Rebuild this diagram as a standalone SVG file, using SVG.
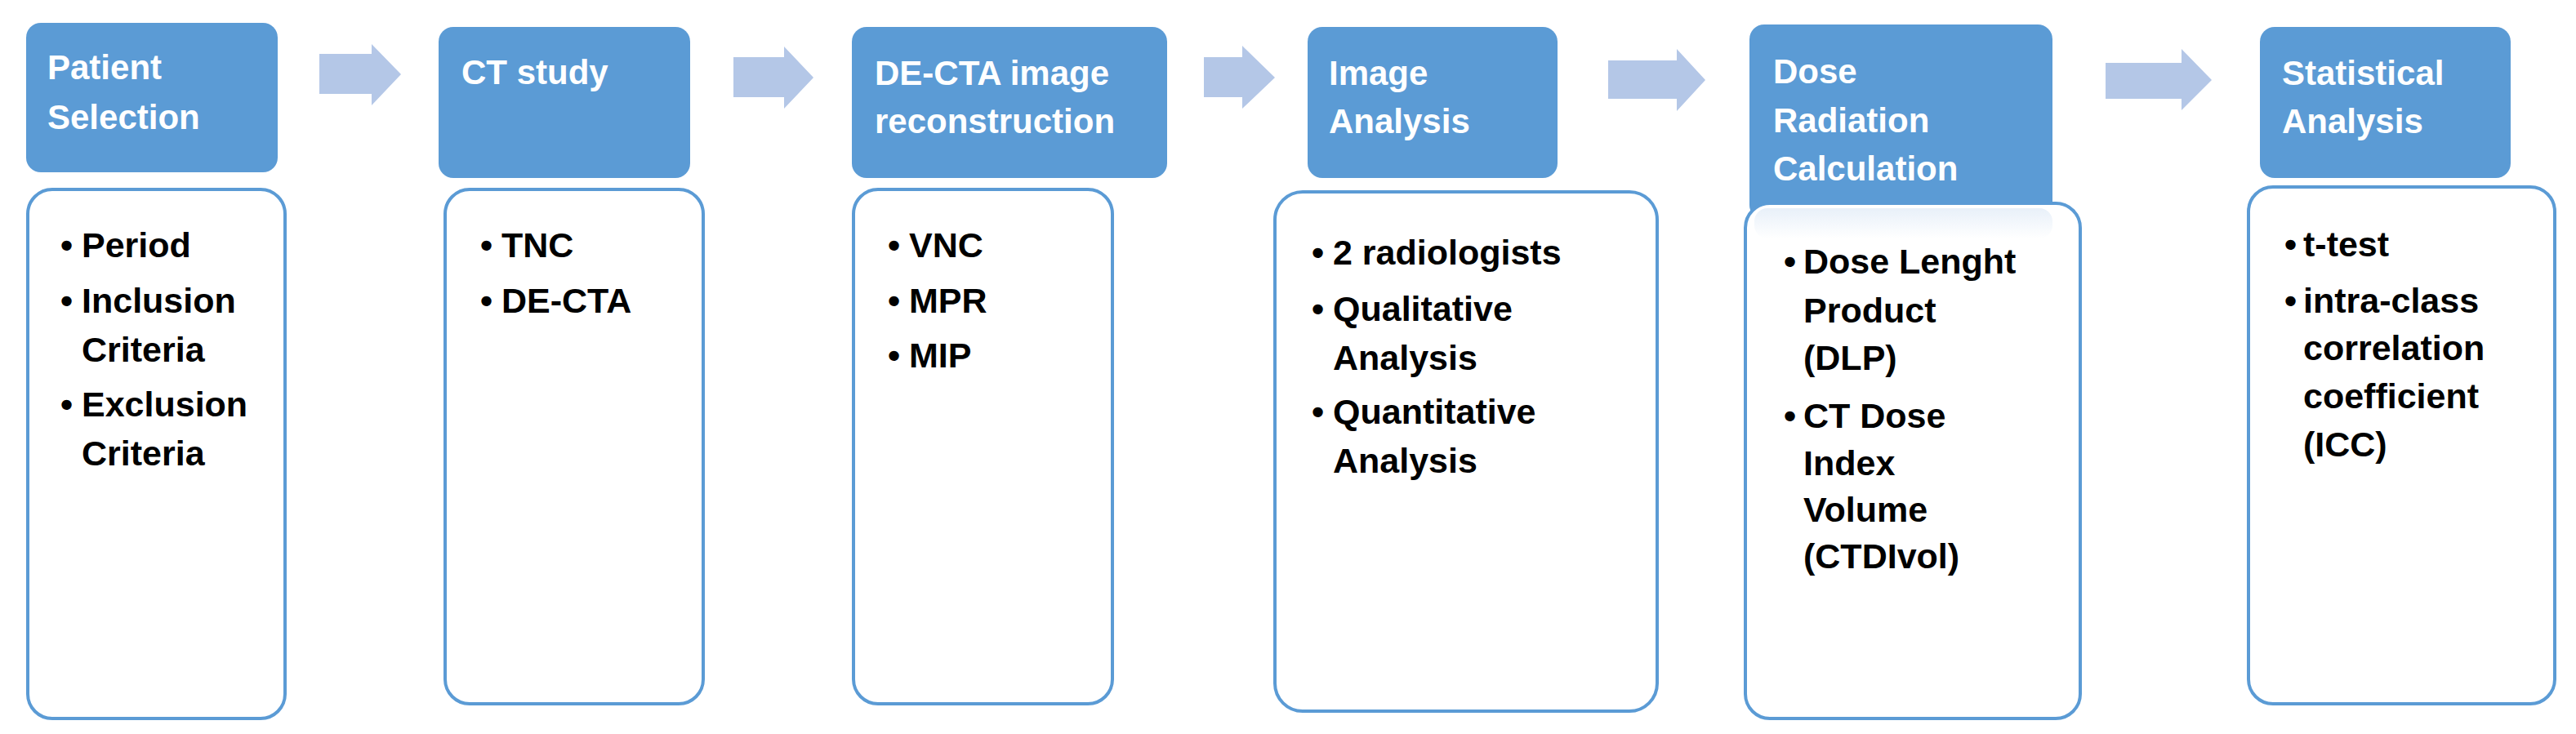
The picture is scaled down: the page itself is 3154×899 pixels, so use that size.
<svg xmlns="http://www.w3.org/2000/svg" width="3154" height="899" viewBox="0 0 3154 899">
<style>
.h{fill:#5B9BD5}
.b{fill:#fff;stroke:#5B9BD5;stroke-width:4}
.ht{font-family:"Liberation Sans",Arial,sans-serif;font-weight:bold;font-size:42px;fill:#fff}
.t{font-family:"Liberation Sans",Arial,sans-serif;font-weight:bold;font-size:43px;fill:#000}
.a{fill:#B4C7E7}
</style>
<rect width="3154" height="899" fill="#fff"/>
<g id="connectors">
<path class="a" d="M391,66H455V54L491,91L455,129V115H391Z"/>
<path class="a" d="M898,70H960V57L996,95L960,133V119H898Z"/>
<path class="a" d="M1474,70H1521V56L1561,95L1521,133V119H1474Z"/>
<path class="a" d="M1969,74H2053V60L2088,98L2053,136V121H1969Z"/>
<path class="a" d="M2578,77H2671V60L2708,98L2671,135V121H2578Z"/>
</g>
<g id="n1">
<rect class="h" x="32" y="28" width="308" height="183" rx="18"/>
<text class="ht" x="58" y="97">Patient</text><text class="ht" x="58" y="158">Selection</text>
<rect class="b" x="34" y="232" width="315" height="648" rx="30"/>
<text class="t" x="74" y="315">•</text><text class="t" x="100" y="315">Period</text>
<text class="t" x="74" y="383">•</text><text class="t" x="100" y="383">Inclusion</text><text class="t" x="100" y="443">Criteria</text>
<text class="t" x="74" y="510">•</text><text class="t" x="100" y="510">Exclusion</text><text class="t" x="100" y="570">Criteria</text>
</g>
<g id="n2">
<rect class="h" x="537" y="33" width="308" height="185" rx="18"/>
<text class="ht" x="565" y="103">CT study</text>
<rect class="b" x="545" y="232" width="316" height="630" rx="30"/>
<text class="t" x="588" y="315">•</text><text class="t" x="614" y="315">TNC</text>
<text class="t" x="588" y="383">•</text><text class="t" x="614" y="383">DE-CTA</text>
</g>
<g id="n3">
<rect class="h" x="1043" y="33" width="386" height="185" rx="18"/>
<text class="ht" x="1071" y="104">DE-CTA image</text><text class="ht" x="1071" y="163">reconstruction</text>
<rect class="b" x="1045" y="232" width="317" height="630" rx="30"/>
<text class="t" x="1087" y="315">•</text><text class="t" x="1113" y="315">VNC</text>
<text class="t" x="1087" y="383">•</text><text class="t" x="1113" y="383">MPR</text>
<text class="t" x="1087" y="450">•</text><text class="t" x="1113" y="450">MIP</text>
</g>
<g id="n4">
<rect class="h" x="1601" y="33" width="306" height="185" rx="18"/>
<text class="ht" x="1627" y="104">Image</text><text class="ht" x="1627" y="163">Analysis</text>
<rect class="b" x="1561" y="235" width="468" height="636" rx="34"/>
<text class="t" x="1606" y="324">•</text><text class="t" x="1632" y="324">2 radiologists</text>
<text class="t" x="1606" y="393">•</text><text class="t" x="1632" y="393">Qualitative</text><text class="t" x="1632" y="453">Analysis</text>
<text class="t" x="1606" y="519">•</text><text class="t" x="1632" y="519">Quantitative</text><text class="t" x="1632" y="579">Analysis</text>
</g>
<g id="n5">
<defs><linearGradient id="fade" x1="0" y1="0" x2="0" y2="1"><stop offset="0" stop-color="#E8F0F9"/><stop offset="1" stop-color="#fff"/></linearGradient></defs>
<rect class="h" x="2142" y="30" width="371" height="239" rx="18"/>
<text class="ht" x="2171" y="102">Dose</text><text class="ht" x="2171" y="162">Radiation</text><text class="ht" x="2171" y="221">Calculation</text>
<rect class="b" x="2137" y="249" width="410" height="631" rx="30"/>
<rect x="2148" y="255" width="365" height="37" rx="16" fill="url(#fade)"/>
<text class="t" x="2184" y="335">•</text><text class="t" x="2208" y="335">Dose Lenght</text>
<text class="t" x="2208" y="395">Product</text><text class="t" x="2208" y="453">(DLP)</text>
<text class="t" x="2184" y="524">•</text><text class="t" x="2208" y="524">CT Dose</text>
<text class="t" x="2208" y="582">Index</text><text class="t" x="2208" y="639">Volume</text><text class="t" x="2208" y="696">(CTDIvol)</text>
</g>
<g id="n6">
<rect class="h" x="2767" y="33" width="307" height="185" rx="18"/>
<text class="ht" x="2794" y="104">Statistical</text><text class="ht" x="2794" y="163">Analysis</text>
<rect class="b" x="2753" y="229" width="375" height="633" rx="30"/>
<text class="t" x="2797" y="314">•</text><text class="t" x="2820" y="314">t-test</text>
<text class="t" x="2797" y="383">•</text><text class="t" x="2820" y="383">intra-class</text>
<text class="t" x="2820" y="441">correlation</text><text class="t" x="2820" y="500">coefficient</text><text class="t" x="2820" y="559">(ICC)</text>
</g>
</svg>
